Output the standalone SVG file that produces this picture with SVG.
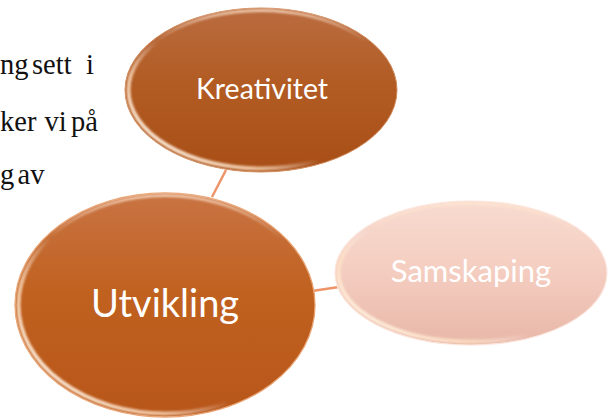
<svg xmlns="http://www.w3.org/2000/svg" width="612" height="418" viewBox="0 0 612 418">
<defs>
<style>
.body{font-family:"Liberation Serif","Times New Roman",serif;font-size:28.5px;fill:#111}
.lbl{font-family:Lato,"Open Sans",sans-serif;fill:#ffffff;text-anchor:middle}
.conn{stroke:#EE9468;stroke-width:2.5;fill:none}
.rim{fill:none;stroke:url(#rimGrad);stroke-width:4;filter:url(#soft)}
.top{fill:none;stroke:url(#topGrad);stroke-width:3;filter:url(#soft)}
</style>
<linearGradient id="gDark" x1="0" y1="0" x2="0" y2="1">
<stop offset="0" stop-color="#BA6C40"/>
<stop offset="0.45" stop-color="#B25C24"/>
<stop offset="1" stop-color="#A84E16"/>
</linearGradient>
<linearGradient id="gMid" x1="0" y1="0" x2="0" y2="1">
<stop offset="0" stop-color="#C97444"/>
<stop offset="0.45" stop-color="#C0611F"/>
<stop offset="1" stop-color="#B8561A"/>
</linearGradient>
<linearGradient id="gPale" x1="0" y1="0" x2="0" y2="1">
<stop offset="0" stop-color="#F8DBD0"/>
<stop offset="0.5" stop-color="#F4CDC0"/>
<stop offset="1" stop-color="#E8B7A8"/>
</linearGradient>
<linearGradient id="rimGrad" x1="0" y1="0.85" x2="0.75" y2="0.25">
<stop offset="0" stop-color="#FFF6EA" stop-opacity="1"/>
<stop offset="0.3" stop-color="#FFE2C4" stop-opacity="0.75"/>
<stop offset="0.52" stop-color="#FFFFFF" stop-opacity="0"/>
</linearGradient>
<linearGradient id="topGrad" x1="0" y1="0" x2="0" y2="1">
<stop offset="0" stop-color="#FFE6D0" stop-opacity="0.75"/>
<stop offset="0.2" stop-color="#FFE6D0" stop-opacity="0"/>
</linearGradient>
<filter id="soft" x="-5%" y="-5%" width="110%" height="110%">
<feGaussianBlur stdDeviation="0.9"/>
</filter>
</defs>

<g id="bodytext">
<text class="body" y="74"><tspan x="0">ng</tspan><tspan x="32">sett</tspan><tspan x="86">i</tspan></text>
<text class="body" y="131"><tspan x="0">ker</tspan><tspan x="44.5">vi</tspan><tspan x="71">på</tspan></text>
<text class="body" y="184"><tspan x="0">g</tspan><tspan x="17.5">av</tspan></text>
</g>

<g id="connectors">
<line class="conn" x1="226" y1="170" x2="212" y2="197"/>
<line class="conn" x1="312" y1="291" x2="339" y2="287"/>
</g>

<g id="kreativitet">
<ellipse cx="261" cy="90" rx="136" ry="82" fill="url(#gDark)" stroke="#D08A5C" stroke-width="1"/>
<ellipse class="rim" cx="261" cy="90" rx="132.5" ry="78.5"/>
<ellipse class="top" cx="261" cy="90" rx="133" ry="79.5"/>
<text class="lbl" x="262" y="99" font-size="28.5">Kreativitet</text>
</g>

<g id="utvikling">
<ellipse cx="165" cy="305" rx="150" ry="112" fill="url(#gMid)" stroke="#E8A272" stroke-width="1.3"/>
<ellipse class="rim" cx="165" cy="305" rx="146.5" ry="108.5"/>
<ellipse class="top" cx="165" cy="305" rx="147" ry="109.5"/>
<text class="lbl" x="165" y="317" font-size="38">Utvikling</text>
</g>

<g id="samskaping">
<ellipse cx="471" cy="273" rx="136" ry="72" fill="url(#gPale)" stroke="#FBE6DE" stroke-width="1.2"/>
<ellipse class="rim" cx="471" cy="273" rx="132.5" ry="68.5"/>
<ellipse class="top" cx="471" cy="273" rx="133" ry="69.5"/>
<text class="lbl" x="471" y="282" font-size="31">Samskaping</text>
</g>
</svg>
